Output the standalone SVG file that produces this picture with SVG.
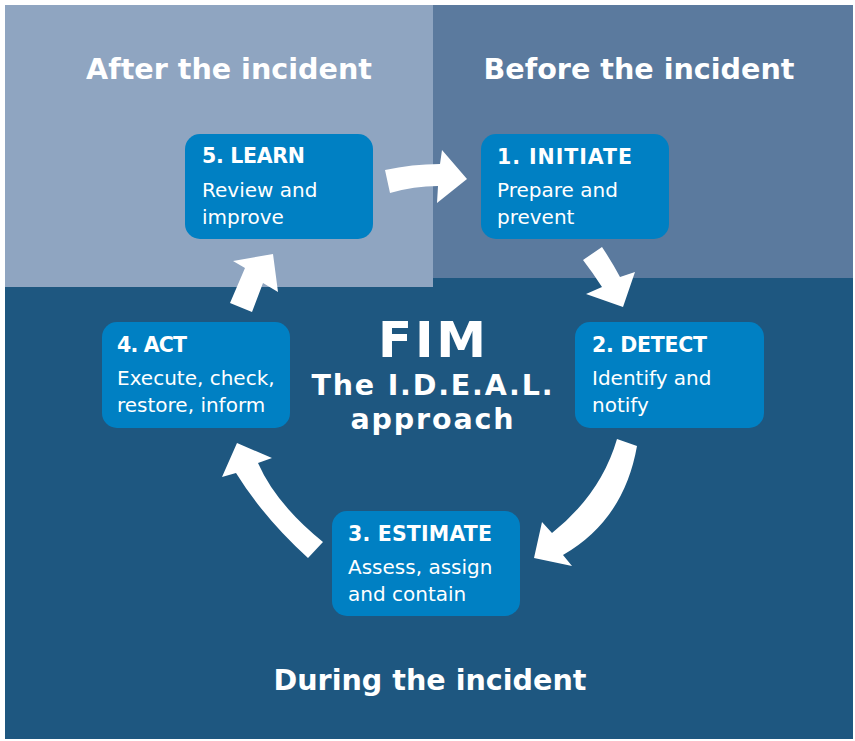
<svg xmlns="http://www.w3.org/2000/svg" width="855" height="741" viewBox="0 0 855 741">
<style>
.bg{stroke:none}
.box rect{fill:#0080C3}
.t{font-family:"DejaVu Sans",Verdana,sans-serif;fill:#fff}
.title{font-size:20.5px;font-weight:bold}
.body{font-size:20px}
.hdr{font-size:28.6px;font-weight:bold;text-anchor:middle}
.mid{font-weight:bold;text-anchor:middle}
.arrow{fill:#fff}
</style>
<rect width="855" height="741" fill="#fff"/>
<rect class="bg" x="5" y="5" width="848" height="734" fill="#1E5780"/>
<rect class="bg" x="5" y="5" width="428" height="282" fill="#8FA5C1"/>
<rect class="bg" x="433" y="5" width="420" height="273" fill="#5B7A9E"/>

<text class="t hdr" x="229" y="79">After the incident</text>
<text class="t hdr" x="639" y="79">Before the incident</text>
<text class="t hdr" x="430" y="690">During the incident</text>

<g id="center">
<text class="t mid" x="432" y="357" font-size="50" textLength="108">FIM</text>
<text class="t mid" x="432" y="395" font-size="28.5" textLength="241">The I.D.E.A.L.</text>
<text class="t mid" x="432" y="429" font-size="28.5" textLength="163">approach</text>
</g>

<g id="connectors">
<path class="arrow" d="M385,170 Q412,164 440,164 L442,150 L467,179 L437,203 L438,186 Q414,186 390,193 Z"/>
<path class="arrow" d="M583,260 L602,247 Q612,262 620,277 L635,272 L623,307 L586,294 L602,287 Q593,273 583,260 Z"/>
<path class="arrow" d="M617,439 L637,446 Q624,520 563,555 L572,566 L534,558 L542,522 L552,533 Q601,494 617,439 Z"/>
<path class="arrow" d="M308,558 Q264,518 236,473 L222,477 L237,443 L272,458 L258,463 Q276,504 323,542 Z"/>
<path class="arrow" d="M230,303 L245,268 L233,261 L273,254 L278,292 L263,283 L252,312 Z"/>
</g>

<g id="learn" class="box">
<rect x="185" y="134" width="188" height="105" rx="15"/>
<text class="t title" x="202" y="163" textLength="103">5. LEARN</text>
<text class="t body" x="202" y="197">Review and</text>
<text class="t body" x="202" y="224">improve</text>
</g>

<g id="initiate" class="box">
<rect x="481" y="134" width="188" height="105" rx="15"/>
<text class="t title" x="497" y="164" textLength="135">1. INITIATE</text>
<text class="t body" x="497" y="197">Prepare and</text>
<text class="t body" x="497" y="224">prevent</text>
</g>

<g id="detect" class="box">
<rect x="575" y="322" width="189" height="106" rx="15"/>
<text class="t title" x="592" y="352" textLength="115">2. DETECT</text>
<text class="t body" x="592" y="385">Identify and</text>
<text class="t body" x="592" y="412">notify</text>
</g>

<g id="act" class="box">
<rect x="102" y="322" width="188" height="106" rx="15"/>
<text class="t title" x="117" y="352" textLength="70">4. ACT</text>
<text class="t body" x="117" y="385">Execute, check,</text>
<text class="t body" x="117" y="412">restore, inform</text>
</g>

<g id="estimate" class="box">
<rect x="332" y="511" width="188" height="105" rx="15"/>
<text class="t title" x="348" y="541" textLength="144">3. ESTIMATE</text>
<text class="t body" x="348" y="574">Assess, assign</text>
<text class="t body" x="348" y="601">and contain</text>
</g>
</svg>
